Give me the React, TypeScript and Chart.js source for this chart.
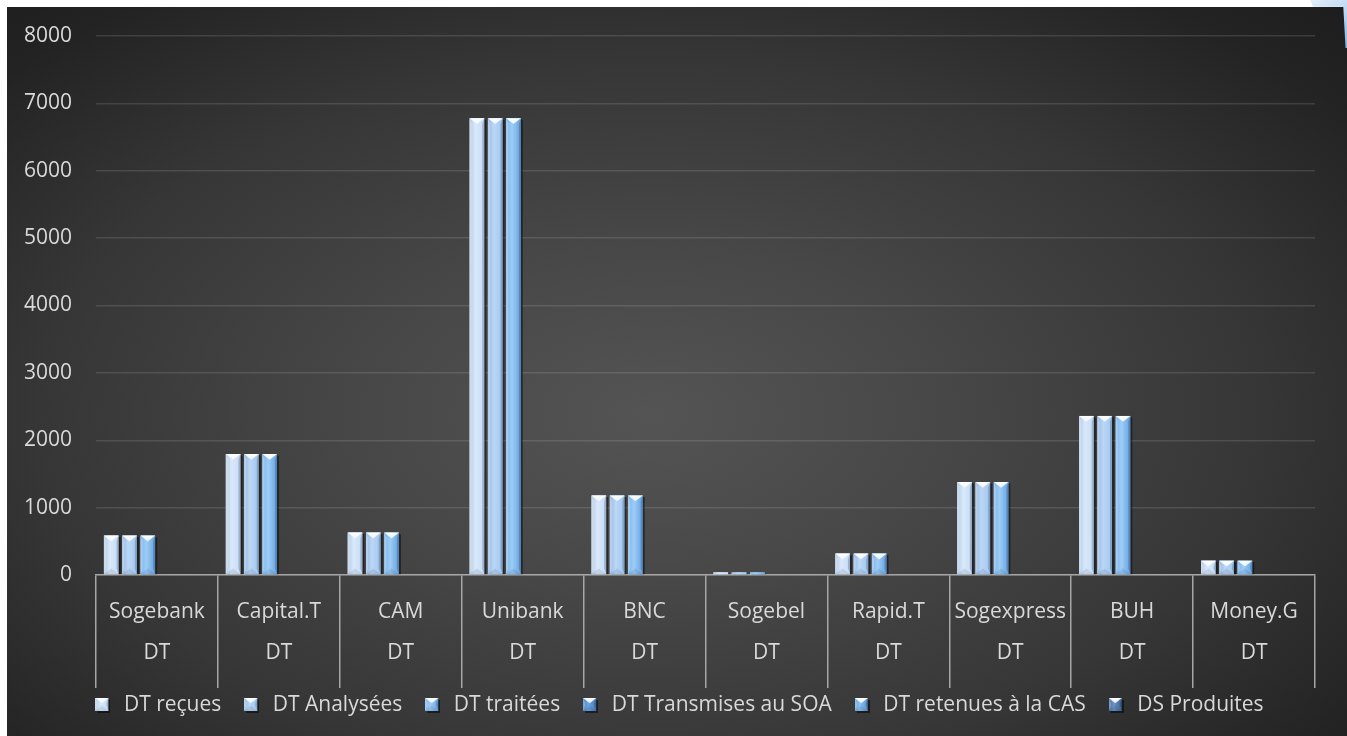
import React, { useEffect, useRef } from "react";
import { Chart, registerables } from "chart.js";

Chart.register(...registerables);

// ---------- data ----------
const categories = ["Sogebank", "Capital.T", "CAM", "Unibank", "BNC", "Sogebel", "Rapid.T", "Sogexpress", "BUH", "Money.G"];
const groupLabels = ["DT", "DT", "DT", "DT", "DT", "DT", "DT", "DT", "DT", "DT"];
const seriesNames = ["DT reçues", "DT Analysées", "DT traitées", "DT Transmises au SOA", "DT retenues à la CAS", "DS Produites"];
const dtRecues = [585, 1796, 630, 6780, 1180, 40, 318, 1380, 2361, 213];
const dtAnalysees = [585, 1796, 630, 6780, 1180, 40, 318, 1380, 2361, 213];
const dtTraitees = [585, 1796, 630, 6780, 1180, 40, 318, 1380, 2361, 213];
const dtTransmises = [0, 0, 0, 0, 0, 0, 0, 0, 0, 0];
const dtRetenues = [0, 0, 0, 0, 0, 0, 0, 0, 0, 0];
const dsProduites = [0, 0, 0, 0, 0, 0, 0, 0, 0, 0];
const yMin = 0;
const yMax = 8000;
const yStep = 1000;

// ---------- styles ----------
const FONT = "'Open Sans', 'DejaVu Sans', sans-serif";
const FS = 21;
const TEXT = "#d9d9d9";
const seriesColors: string[][] = [
  ["#b4c9e2", "#d9e9fb", "#c6dbf3"],
  ["#98b9df", "#bad7f6", "#a3c6ee"],
  ["#80b4e8", "#9ccdf7", "#67a1dd"],
  ["#4f85c4", "#6ea6e0", "#4677b3"],
  ["#6aa3dc", "#8cc3f3", "#5a92cf"],
  ["#4a73a3", "#6b93c2", "#41628f"],
];

function poly(ctx: CanvasRenderingContext2D, pts: number[][], fill: string | CanvasGradient) {
  ctx.beginPath();
  ctx.moveTo(pts[0][0], pts[0][1]);
  for (let i = 1; i < pts.length; i++) ctx.lineTo(pts[i][0], pts[i][1]);
  ctx.closePath();
  ctx.fillStyle = fill;
  ctx.fill();
}

function drawBevel(ctx: CanvasRenderingContext2D, left: number, top: number, w: number, h: number, col: string[]) {
  const right = left + w;
  const bottom = top + h;
  const cx = left + w / 2;
  const g = ctx.createLinearGradient(left, 0, right, 0);
  g.addColorStop(0, col[0]);
  g.addColorStop(0.4, col[1]);
  g.addColorStop(1, col[2]);
  ctx.fillStyle = g;
  ctx.fillRect(left, top, w, h);
  const b = Math.min(w * 0.4, h / 2);
  const e = Math.min(2, w / 6);
  if (h > 2) {
    poly(ctx, [[left, top], [left + e, top + b], [left + e, bottom - b], [left, bottom]], "rgba(255,255,255,0.28)");
    poly(ctx, [[right, top], [right - e, top + b], [right - e, bottom - b], [right, bottom]], "rgba(0,30,70,0.22)");
    poly(ctx, [[left, bottom], [right, bottom], [cx, bottom - b]], "rgba(0,30,70,0.10)");
    const tg = ctx.createLinearGradient(0, top, 0, top + b);
    tg.addColorStop(0, "rgba(255,255,255,1)");
    tg.addColorStop(1, "rgba(240,248,255,0.9)");
    poly(ctx, [[left, top], [right, top], [cx, top + b]], tg);
  }
}

function makeIcon(col: string[]): HTMLCanvasElement {
  const c = document.createElement("canvas");
  const s = 13;
  c.width = s + 2;
  c.height = s + 2;
  const ctx = c.getContext("2d") as CanvasRenderingContext2D;
  ctx.fillStyle = "rgba(0,0,0,0.5)";
  ctx.fillRect(2, 2, s, s);
  drawBevel(ctx, 0, 0, s, s, col);
  return c;
}

const bevelPlugin = {
  id: "bevelBars",
  afterDatasetsDraw(chart: any) {
    const ctx: CanvasRenderingContext2D = chart.ctx;
    ctx.save();
    chart.data.datasets.forEach((ds: any, di: number) => {
      const meta = chart.getDatasetMeta(di);
      if (meta.hidden) return;
      meta.data.forEach((bar: any) => {
        const p = bar.getProps(["x", "y", "base", "width"], true);
        const top = Math.min(p.y, p.base);
        const bottom = Math.max(p.y, p.base);
        const h = bottom - top;
        if (h < 0.5) return;
        const left = p.x - p.width / 2;
        ctx.fillStyle = "rgba(0,0,0,0.45)";
        ctx.fillRect(left + 2, top + 1.5, p.width, h - 1.5);
        drawBevel(ctx, left, top, p.width, h, seriesColors[di]);
      });
    });
    ctx.restore();
  },
};

const xLabelPlugin = {
  id: "xLabels",
  afterLayout(chart: any) {
    if (chart.legend) {
      chart.legend.left += 17;
      chart.legend.right += 17;
    }
  },
  afterDraw(chart: any) {
    const ctx: CanvasRenderingContext2D = chart.ctx;
    const xs = chart.scales.x;
    ctx.save();
    ctx.fillStyle = TEXT;
    ctx.font = `${FS}px ${FONT}`;
    ctx.textAlign = "center";
    ctx.textBaseline = "middle";
    categories.forEach((c, i) => {
      const px = xs.getPixelForValue(i);
      ctx.fillText(c, px, xs.top + 37);
      ctx.fillText(groupLabels[i], px, xs.top + 78);
    });
    ctx.restore();
  },
};

export default function App() {
  const ref = useRef<HTMLCanvasElement | null>(null);
  useEffect(() => {
    if (!ref.current) return;
    const icons = seriesColors.map((c) => makeIcon(c));
    const values = [dtRecues, dtAnalysees, dtTraitees, dtTransmises, dtRetenues, dsProduites];
    const chart = new Chart(ref.current, {
      type: "bar",
      data: {
        labels: categories,
        datasets: seriesNames.map((name, i) => ({
          label: name,
          data: values[i],
          backgroundColor: seriesColors[i][1],
          borderWidth: 0,
          barPercentage: 0.8,
          categoryPercentage: 0.9,
        })),
      },
      options: {
        responsive: false,
        animation: false,
        layout: { padding: { left: 0, right: 32, top: 29, bottom: 10 } },
        scales: {
          x: {
            grid: {
              display: true,
              drawOnChartArea: false,
              drawTicks: true,
              tickLength: 113,
              color: "#a6a6a6",
              lineWidth: 1.5,
              offset: true,
            },
            border: { display: true, color: "#a6a6a6", width: 1.5 },
            ticks: { display: false },
            afterFit: (s: any) => {
              s.height = 100;
            },
          },
          y: {
            min: yMin,
            max: yMax,
            ticks: {
              stepSize: yStep,
              color: TEXT,
              font: { family: FONT, size: FS },
              padding: 24,
              callback: (v: any) => String(v),
            },
            grid: { color: "rgba(255,255,255,0.12)", lineWidth: 1.5, drawTicks: false },
            border: { display: false },
            afterFit: (s: any) => {
              s.width = 89;
              s.paddingTop = 0;
              s.paddingBottom = 0;
            },
          },
        },
        plugins: {
          tooltip: { enabled: false },
          legend: {
            position: "bottom",
            labels: {
              color: TEXT,
              font: { family: FONT, size: FS },
              usePointStyle: true,
              padding: 20,
              generateLabels: (ch: any) => {
                const items = (Chart.defaults.plugins.legend.labels as any).generateLabels(ch);
                return items.map((it: any, i: number) => ({ ...it, pointStyle: icons[i], fontColor: TEXT, hidden: false }));
              },
            },
          },
        },
      } as any,
      plugins: [bevelPlugin, xLabelPlugin],
    });
    return () => chart.destroy();
  }, []);

  return (
    <div style={{ position: "fixed", left: 0, top: 0, width: 1347, height: 736, background: "#ffffff", overflow: "hidden" }}>
      <div
        style={{
          position: "absolute",
          left: 7,
          top: 7,
          width: 1340,
          height: 729,
          background:
            "radial-gradient(ellipse farthest-corner at 48% 56%, #545454 0%, #474747 30%, #363636 62%, #232323 88%, #1d1d1d 100%)",
        }}
      >
        <canvas ref={ref} width={1340} height={729} style={{ display: "block" }} />
      </div>
      <div
        style={{
          position: "absolute",
          left: 1310,
          top: 0,
          width: 37,
          height: 48,
          background: "linear-gradient(150deg, #e3eefa 0%, #b8d5f2 50%, #7fb2e6 100%)",
          clipPath: "polygon(0 0, 100% 0, 100% 100%, 96% 100%, 90% 14%, 8% 14%)",
        }}
      />
    </div>
  );
}
